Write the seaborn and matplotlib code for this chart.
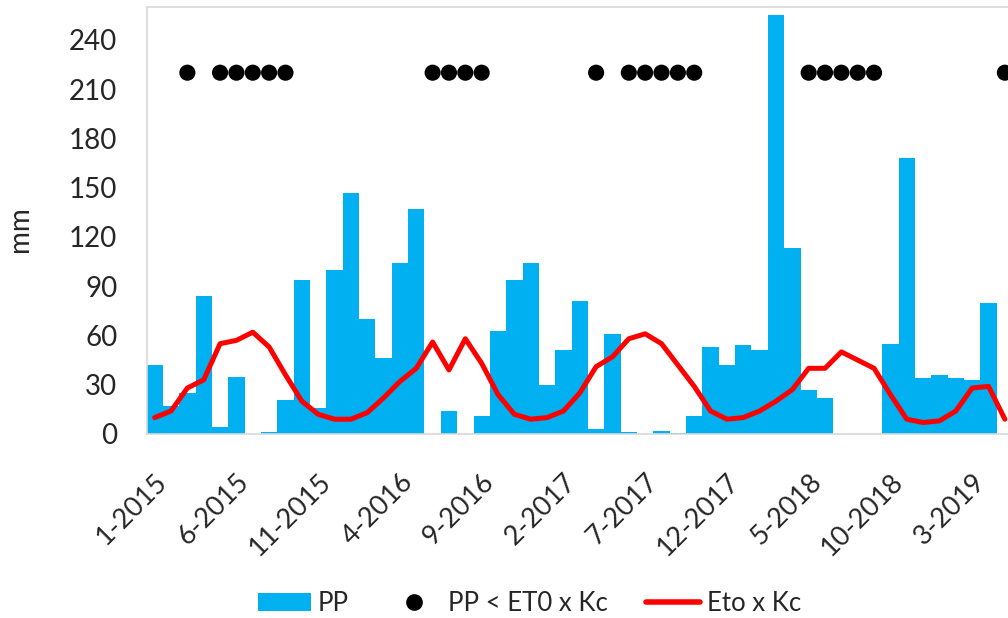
import matplotlib
matplotlib.use("Agg")
import matplotlib.pyplot as plt
from matplotlib.lines import Line2D
from matplotlib.patches import Patch
import numpy as np
import pandas as pd
import seaborn as sns

# Meses de 1-2015 a 5-2019
years = [2015, 2016, 2017, 2018, 2019]
months = [f"{m}-{y}" for y in years for m in range(1, 13)][:53]

# Precipitacion mensual (mm)
pp = [42, 17, 25, 84, 4, 35, 0, 1, 21, 94, 16, 100,
      147, 70, 46, 104, 137, 0, 14, 0, 11, 63, 94, 104,
      30, 51, 81, 3, 61, 1, 0, 2, 0.5, 11, 53, 42,
      54, 51, 255, 113, 27, 22, 0.3, 0.3, 0.3, 55, 168, 34,
      36, 34, 33, 80, 0]

# Evapotranspiracion x Kc (mm)
eto_kc = [10, 14, 28, 33, 55, 57, 62, 53, 36, 20, 12, 9,
          9, 13, 22, 32, 40, 56, 39, 58, 43, 24, 12, 9,
          10, 14, 25, 41, 47, 58, 61, 55, 42, 29, 14, 9,
          10, 14, 20, 27, 40, 40, 50, 45, 40, 24, 9, 7,
          8, 14, 28, 29, 9]

# Meses donde PP < ET0 x Kc (indices)
deficit_idx = [2, 4, 5, 6, 7, 8, 17, 18, 19, 20, 27, 29, 30, 31, 32, 33,
               40, 41, 42, 43, 44, 52]
marker_level = 220

sns.set_style("white")
plt.rcParams["font.family"] = ["Lato", "DejaVu Sans"]

df = pd.DataFrame({"mes": months, "pp": pp, "eto": eto_kc})
df["i"] = np.arange(len(df))
dots = df.loc[deficit_idx].assign(y=marker_level)

fig = plt.figure(figsize=(10.08, 6.18), dpi=100)
n = len(months)
ax = fig.add_axes([146.5 / 1008, 1 - 434 / 618, n * 16.35 / 1008, 427 / 618])

sns.barplot(data=df, x="mes", y="pp", color="#00B0F0", saturation=1,
            width=1.0, linewidth=0, ax=ax, zorder=2)
sns.lineplot(data=df, x="i", y="eto", color="#FF0000", linewidth=3.6,
             ax=ax, zorder=3, solid_joinstyle="round", solid_capstyle="round")
sns.scatterplot(data=dots, x="i", y="y", color="black", s=135,
                edgecolor="none", ax=ax, zorder=4, clip_on=False)

ax.set_xlim(-0.5, n - 0.5)
ax.set_ylim(0, 260)
ax.set_yticks(range(0, 241, 30))
ax.set_xticks(range(0, n, 5))
ax.set_xticklabels(months[::5], rotation=45, ha="right",
                   rotation_mode="anchor", fontsize=19.5)
ax.tick_params(axis="y", labelsize=20, length=0, pad=21)
ax.tick_params(axis="x", length=0, pad=25.5)

ax.set_xlabel("")
ax.set_ylabel("mm", fontsize=20)
ax.yaxis.set_label_coords(-0.1315, 0.48)
for sp in ax.spines.values():
    sp.set_color("#D9D9D9")
    sp.set_linewidth(1.2)

handles = [
    Patch(facecolor="#00B0F0", edgecolor="none", label="PP"),
    Line2D([], [], marker="o", color="black", linestyle="none",
           markersize=11, label="PP < ET0 x Kc"),
    Line2D([], [], color="#FF0000", linewidth=4, solid_capstyle="round",
           label="Eto x Kc"),
]
fig.legend(handles=handles, loc="center", bbox_to_anchor=(0.525, 0.024),
           ncol=3, frameon=False, fontsize=18.5, handlelength=2.1,
           handletextpad=0.25, columnspacing=1.5)

fig.savefig("out.png", dpi=100)
